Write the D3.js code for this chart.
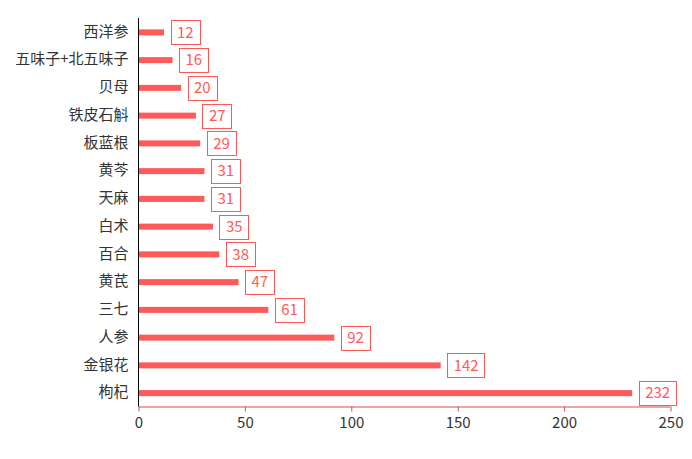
<!DOCTYPE html>
<html><head><meta charset="utf-8">
<script src="https://cdn.jsdelivr.net/npm/d3@7"></script>
<style>body{margin:0;background:#fff;} text{font-family:"Microsoft YaHei","Noto Sans CJK SC",sans-serif;}</style>
</head><body><svg id="c" width="692" height="459"></svg>
<script>
const categories = ["西洋参","五味子+北五味子","贝母","铁皮石斛","板蓝根","黄芩","天麻","白术","百合","黄芪","三七","人参","金银花","枸杞"];
const values = [12,16,20,27,29,31,31,35,38,47,61,92,142,232];
const xTicks = [0,50,100,150,200,250];

(function(){
const svg = d3.select("#c");
const mLeft = 138.5, mRight = 670.5, mTop = 18, mBottom = 406.5;
const x = d3.scaleLinear().domain([0,250]).range([mLeft,mRight]);
const y = d3.scaleBand().domain(categories).range([mTop,mBottom]);
const barH = 6;
const red = "#ff5a5a";
const font = '"Microsoft YaHei","Noto Sans CJK SC",sans-serif';

svg.selectAll("rect.bar").data(values).enter().append("rect")
  .attr("x", x(0)).attr("y",(d,i)=>y(categories[i])+y.bandwidth()/2 - barH/2 + 0.5)
  .attr("width", d=>x(d)-x(0)).attr("height", barH).attr("fill", red);

const g = svg.selectAll("g.lab").data(values).enter().append("g");
g.each(function(d,i){
  const cy = y(categories[i])+y.bandwidth()/2 + 0.5;
  const sel = d3.select(this);
  const t = sel.append("text").attr("x", x(d)+13).attr("y", cy).attr("dy","0.35em")
    .attr("font-size",15).attr("fill",red).text(d);
  const w = t.node().getComputedTextLength();
  sel.insert("rect","text").attr("x", Math.round(x(d)+6.5)+0.5).attr("y", Math.round(cy-12)+0.5)
    .attr("width", Math.round(w+12)).attr("height",24).attr("fill","#fff").attr("stroke",red).attr("stroke-width",1);
});

const xa = svg.append("g").attr("transform",`translate(0,${mBottom})`)
  .call(d3.axisBottom(x).tickValues(xTicks).tickSize(5).tickPadding(6));
xa.select(".domain").attr("stroke","#d84a5a").attr("d",`M${mLeft},0.5H${mRight}`);
xa.selectAll(".tick line").attr("stroke","#d84a5a");
xa.selectAll(".tick text").attr("font-size",15).attr("fill","#333").attr("font-family",font);

const ya = svg.append("g").attr("transform",`translate(${mLeft},0)`)
  .call(d3.axisLeft(y).tickSize(0).tickPadding(10));
ya.select(".domain").attr("stroke","#000").attr("d",`M0,${mTop}V${mBottom}`);
ya.selectAll(".tick text").attr("font-size",15).attr("fill","#333").attr("font-family",font);
})();
</script></body></html>
